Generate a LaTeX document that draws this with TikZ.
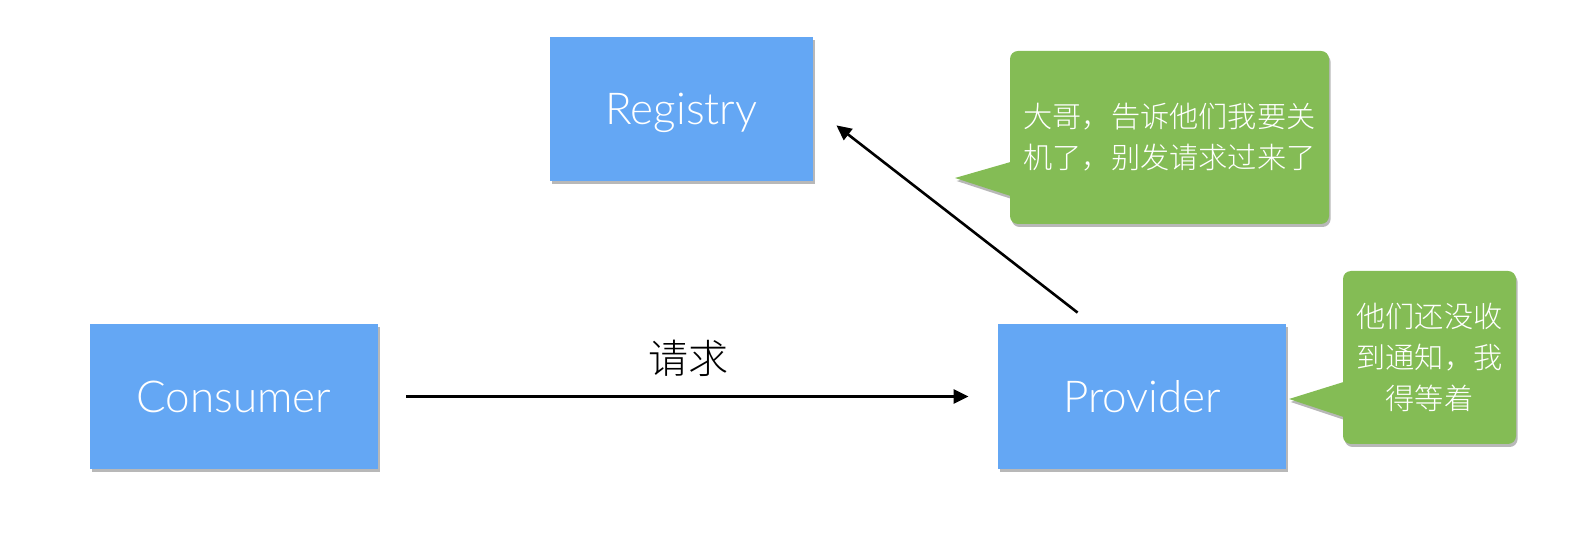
\documentclass[tikz,border=0pt]{standalone}
\usepackage{fontspec}
\setmainfont{Lato}[UprightFont=* Light]
\newfontfamily\cjk{Noto Sans CJK SC}[UprightFont=* Light]
\usetikzlibrary{shadows,arrows.meta,calc}
\definecolor{boxblue}{RGB}{100,167,244}
\definecolor{bubgreen}{RGB}{132,188,85}
\begin{document}
\begin{tikzpicture}[x=0.5pt,y=-0.5pt,
  box/.style={fill=boxblue, minimum height=72pt, inner sep=0pt, text=white, text depth=0pt,
    font=\fontsize{22}{24}\selectfont,
    drop shadow={shadow xshift=0.8pt, shadow yshift=-1.5pt, opacity=0.28, fill=black}},
  bubble/.style={fill=bubgreen, rounded corners=4pt, inner sep=0pt, text=white, align=center,
    font=\cjk\fontsize{14.6}{20.5}\selectfont,
    drop shadow={shadow xshift=0.8pt, shadow yshift=-1.5pt, opacity=0.28, fill=black}},
  pointer/.style={fill=bubgreen},
  pointershadow/.style={fill=black, opacity=0.28},
  conn/.style={draw=black, line width=1.3pt, -{Triangle[length=7.5pt,width=7pt]}},
  lbl/.style={text=black, font=\cjk\fontsize{20}{24}\selectfont, inner sep=0pt}
]
\useasboundingbox (0,0) rectangle (1580,544);

% boxes
\node[box, minimum width=131.5pt] (reg) at (681.5,109) {Registry};
\node[box, minimum width=144pt, minimum height=72.5pt] (con) at (234,396.5) {Consumer};
\node[box, minimum width=144pt, minimum height=72.5pt] (pro) at (1142,396.5) {Provider};

% bubble 1
\coordinate (t1) at (955,178);
\fill[pointershadow] ($(1010,162)+(1.6,3)$) -- ($(t1)+(1.6,3)$) -- ($(1010,196)+(1.6,3)$) -- cycle;
\node[bubble, minimum width=159.5pt, minimum height=86.5pt] (b1) at (1169.5,137.5)
  {大哥，告诉他们我要关\\机了，别发请求过来了};
\fill[pointer] ($(b1.west)+(1,24.5)$) -- (t1) -- ($(b1.west)+(1,58.5)$) -- cycle;

% bubble 2
\coordinate (t2) at (1289,399);
\fill[pointershadow] ($(1343,382)+(1.6,3)$) -- ($(t2)+(1.6,3)$) -- ($(1343,417)+(1.6,3)$) -- cycle;
\node[bubble, minimum width=86.5pt, minimum height=86.5pt] (b2) at (1429.5,357.5)
  {他们还没收\\到通知，我\\得等着};
\fill[pointer] ($(b2.west)+(1,24.5)$) -- (t2) -- ($(b2.west)+(1,59.5)$) -- cycle;

% connectors
\coordinate (ps) at ($(pro.north west)+(80,-11)$);
\coordinate (re) at ($(reg.south east)+(23,-56)$);
\draw[conn] (ps) -- (re);
\draw[conn, shorten <=14pt, shorten >=14.5pt] (con) -- (pro);
\node[lbl] (req) at (688,358) {请求};
\end{tikzpicture}
\end{document}
